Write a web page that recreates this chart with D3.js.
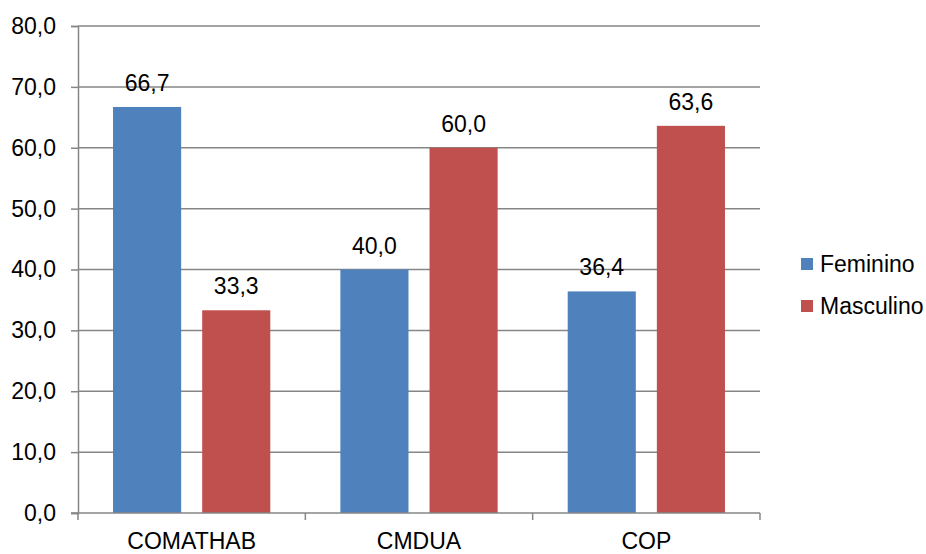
<!DOCTYPE html>
<html>
<head>
<meta charset="utf-8">
<script src="https://cdn.jsdelivr.net/npm/d3@7"></script>
<style>
  body { margin: 0; background: #fff; }
  text { font-family: "Liberation Sans", Arial, sans-serif; fill: #000; }
</style>
</head>
<body>
<svg id="chart" width="926" height="554"></svg>
<script>
// Categories, series and values
const categories = ["COMATHAB", "CMDUA", "COP"];
const seriesNames = ["Feminino", "Masculino"];
const feminino = [66.7, 40.0, 36.4];
const masculino = [33.3, 60.0, 63.6];
const seriesColors = ["#4F81BD", "#C0504D"];
const yTicks = [0, 10, 20, 30, 40, 50, 60, 70, 80];

(function () {
  const seriesValues = [feminino, masculino];
  const fmt = v => v.toFixed(1).replace(".", ",");
  const fontSize = 23;

  const svg = d3.select("#chart");
  const plotLeft = 78, plotRight = 760, plotTop = 26, plotBottom = 513;
  const axisColor = "#868686";

  const x = d3.scaleBand().domain(categories).range([plotLeft, plotRight]).padding(0);
  const xs = d3.scaleBand().domain(seriesNames)
    .range([0, x.bandwidth()]).paddingInner(0.236).paddingOuter(0.393);
  const y = d3.scaleLinear().domain([0, 80]).range([plotBottom, plotTop]);

  // Y axis: left tick marks and labels
  const yAxis = d3.axisLeft(y).tickValues(yTicks).tickSize(7).tickFormat(fmt);
  const gy = svg.append("g").attr("transform", `translate(${plotLeft},0)`).call(yAxis);
  gy.select(".domain").attr("stroke", axisColor).attr("stroke-width", 1.5);
  gy.selectAll(".tick line").attr("stroke", axisColor).attr("stroke-width", 1.5);
  gy.selectAll(".tick text").attr("x", -22).attr("font-size", fontSize)
    .attr("font-family", "Liberation Sans, Arial, sans-serif").attr("fill", "#000");

  // Horizontal gridlines
  svg.append("g").selectAll("line").data(yTicks.filter(t => t > 0)).join("line")
    .attr("x1", plotLeft).attr("x2", plotRight)
    .attr("y1", d => y(d)).attr("y2", d => y(d))
    .attr("stroke", axisColor).attr("stroke-width", 1.5);

  // Bars with value labels
  const groups = svg.append("g").selectAll("g").data(categories).join("g")
    .attr("transform", c => `translate(${x(c)},0)`);

  seriesNames.forEach((s, si) => {
    groups.append("rect")
      .attr("x", xs(s))
      .attr("width", xs.bandwidth())
      .attr("y", (c, ci) => y(seriesValues[si][ci]))
      .attr("height", (c, ci) => plotBottom - y(seriesValues[si][ci]))
      .attr("fill", seriesColors[si]);
    groups.append("text")
      .attr("x", xs(s) + xs.bandwidth() / 2)
      .attr("y", (c, ci) => y(seriesValues[si][ci]) - 16)
      .attr("text-anchor", "middle")
      .attr("font-size", fontSize)
      .text((c, ci) => fmt(seriesValues[si][ci]));
  });

  // X axis with ticks at group boundaries
  const xAxisG = svg.append("g");
  xAxisG.append("line").attr("x1", plotLeft - 7).attr("x2", plotRight)
    .attr("y1", plotBottom).attr("y2", plotBottom)
    .attr("stroke", axisColor).attr("stroke-width", 1.5);
  const bounds = categories.map(c => x(c)).concat([x(categories[categories.length - 1]) + x.bandwidth()]);
  xAxisG.selectAll("line.tk").data(bounds).join("line").attr("class", "tk")
    .attr("x1", d => d).attr("x2", d => d)
    .attr("y1", plotBottom).attr("y2", plotBottom + 7)
    .attr("stroke", axisColor).attr("stroke-width", 1.5);
  xAxisG.selectAll("text").data(categories).join("text")
    .attr("x", c => x(c) + x.bandwidth() / 2)
    .attr("y", 549)
    .attr("text-anchor", "middle")
    .attr("font-size", fontSize)
    .text(c => c);

  // Legend
  const legend = svg.append("g").selectAll("g").data(seriesNames).join("g")
    .attr("transform", (d, i) => `translate(801,${258 + i * 42})`);
  legend.append("rect").attr("width", 12).attr("height", 12)
    .attr("fill", (d, i) => seriesColors[i]);
  legend.append("text").attr("x", 19).attr("y", 14)
    .attr("font-size", fontSize).text(d => d);
})();
</script>
</body>
</html>
